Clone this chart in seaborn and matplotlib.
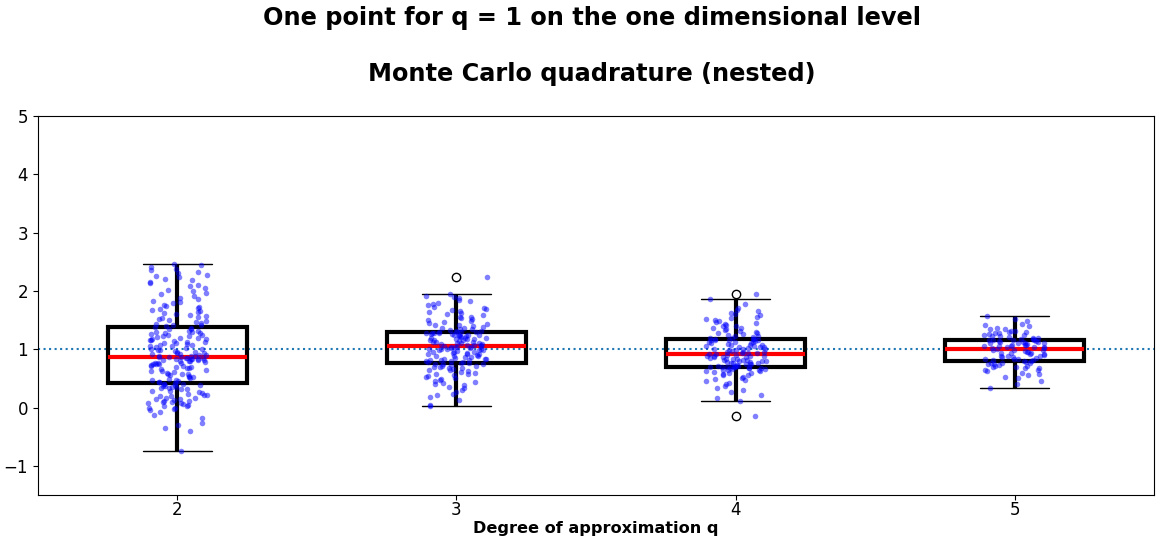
"""Boxplots of nested Monte Carlo quadrature results per degree of approximation."""

from __future__ import annotations

import matplotlib

matplotlib.use("Agg")

import matplotlib.pyplot as plt
import numpy as np
import pandas as pd
import seaborn as sns


DEGREES = ["2", "3", "4", "5"]

VALS_Q2 = [
    -0.74, -0.41, -0.35, -0.30, -0.26, -0.18, -0.12, -0.08, -0.05, -0.03,
    -0.01, 0.00, 0.02, 0.03, 0.04, 0.06, 0.07, 0.08, 0.09, 0.10,
    0.11, 0.12, 0.13, 0.14, 0.15, 0.16, 0.17, 0.19, 0.20, 0.21,
    0.22, 0.24, 0.25, 0.27, 0.28, 0.29, 0.31, 0.32, 0.33, 0.34,
    0.35, 0.36, 0.37, 0.37, 0.38, 0.39, 0.40, 0.41, 0.41, 0.42,
    0.43, 0.44, 0.46, 0.47, 0.47, 0.49, 0.50, 0.52, 0.53, 0.54,
    0.55, 0.57, 0.58, 0.58, 0.60, 0.61, 0.62, 0.63, 0.65, 0.66,
    0.67, 0.68, 0.69, 0.70, 0.71, 0.72, 0.73, 0.74, 0.74, 0.75,
    0.76, 0.77, 0.77, 0.78, 0.79, 0.79, 0.80, 0.81, 0.81, 0.82,
    0.83, 0.83, 0.84, 0.84, 0.85, 0.85, 0.85, 0.86, 0.86, 0.86,
    0.88, 0.88, 0.89, 0.90, 0.90, 0.91, 0.92, 0.93, 0.94, 0.95,
    0.96, 0.97, 0.98, 0.99, 1.00, 1.01, 1.02, 1.03, 1.05, 1.06,
    1.07, 1.08, 1.09, 1.10, 1.11, 1.12, 1.13, 1.14, 1.15, 1.16,
    1.17, 1.18, 1.19, 1.20, 1.21, 1.22, 1.23, 1.24, 1.25, 1.26,
    1.27, 1.28, 1.29, 1.30, 1.31, 1.32, 1.34, 1.35, 1.36, 1.38,
    1.40, 1.41, 1.42, 1.44, 1.45, 1.47, 1.48, 1.50, 1.52, 1.53,
    1.55, 1.57, 1.58, 1.60, 1.62, 1.63, 1.65, 1.67, 1.69, 1.71,
    1.72, 1.74, 1.76, 1.79, 1.81, 1.83, 1.86, 1.88, 1.91, 1.94,
    1.97, 2.00, 2.02, 2.05, 2.08, 2.10, 2.13, 2.15, 2.18, 2.21,
    2.24, 2.26, 2.28, 2.30, 2.33, 2.36, 2.38, 2.41, 2.44, 2.46,
]

VALS_Q3 = [
    0.02, 0.05, 0.13, 0.18, 0.21, 0.24, 0.27, 0.30, 0.33, 0.36,
    0.38, 0.40, 0.42, 0.44, 0.46, 0.47, 0.49, 0.51, 0.52, 0.54,
    0.55, 0.57, 0.58, 0.60, 0.61, 0.62, 0.64, 0.65, 0.66, 0.67,
    0.68, 0.69, 0.70, 0.71, 0.72, 0.73, 0.74, 0.75, 0.75, 0.76,
    0.77, 0.78, 0.78, 0.79, 0.80, 0.81, 0.81, 0.82, 0.83, 0.84,
    0.84, 0.85, 0.86, 0.87, 0.88, 0.88, 0.89, 0.90, 0.91, 0.92,
    0.92, 0.93, 0.94, 0.95, 0.95, 0.96, 0.97, 0.98, 0.98, 0.99,
    1.00, 1.00, 1.01, 1.01, 1.02, 1.02, 1.03, 1.03, 1.04, 1.04,
    1.06, 1.06, 1.07, 1.07, 1.08, 1.09, 1.09, 1.10, 1.11, 1.11,
    1.12, 1.13, 1.13, 1.14, 1.15, 1.15, 1.16, 1.17, 1.18, 1.18,
    1.19, 1.20, 1.20, 1.21, 1.22, 1.22, 1.23, 1.24, 1.24, 1.25,
    1.25, 1.26, 1.26, 1.27, 1.27, 1.28, 1.28, 1.29, 1.29, 1.29,
    1.30, 1.31, 1.32, 1.33, 1.34, 1.35, 1.36, 1.37, 1.38, 1.40,
    1.41, 1.42, 1.44, 1.45, 1.47, 1.48, 1.50, 1.51, 1.53, 1.55,
    1.56, 1.58, 1.60, 1.62, 1.63, 1.65, 1.67, 1.69, 1.71, 1.73,
    1.75, 1.77, 1.80, 1.82, 1.85, 1.87, 1.89, 1.91, 1.94, 2.23,
]

VALS_Q4 = [
    -0.15, 0.12, 0.16, 0.21, 0.26, 0.30, 0.33, 0.37, 0.40, 0.42,
    0.45, 0.47, 0.49, 0.51, 0.53, 0.55, 0.56, 0.58, 0.59, 0.60,
    0.61, 0.62, 0.63, 0.64, 0.65, 0.65, 0.66, 0.66, 0.67, 0.67,
    0.68, 0.68, 0.69, 0.69, 0.69,
    0.70, 0.70, 0.71, 0.72, 0.72, 0.73, 0.74, 0.74, 0.75, 0.76,
    0.76, 0.77, 0.78, 0.78, 0.79, 0.80, 0.80, 0.81, 0.82, 0.82,
    0.83, 0.84, 0.84, 0.85, 0.86, 0.86, 0.87, 0.88, 0.88, 0.89,
    0.89, 0.90, 0.90, 0.91, 0.91,
    0.93, 0.93, 0.94, 0.95, 0.96, 0.96, 0.97, 0.98, 0.99, 1.00,
    1.00, 1.01, 1.02, 1.03, 1.04, 1.04, 1.05, 1.06, 1.07, 1.08,
    1.08, 1.09, 1.10, 1.11, 1.12, 1.12, 1.13, 1.14, 1.15, 1.15,
    1.16, 1.16, 1.17, 1.17, 1.18,
    1.19, 1.20, 1.21, 1.22, 1.23, 1.24, 1.26, 1.27, 1.28, 1.30,
    1.31, 1.33, 1.34, 1.36, 1.37, 1.39, 1.40, 1.42, 1.44, 1.45,
    1.47, 1.49, 1.50, 1.52, 1.54, 1.56, 1.58, 1.60, 1.62, 1.65,
    1.67, 1.70, 1.77, 1.86, 1.94,
]

VALS_Q5 = [
    0.34, 0.41, 0.46, 0.50, 0.53, 0.56, 0.58, 0.60, 0.62, 0.64,
    0.65, 0.67, 0.68, 0.69, 0.70, 0.71, 0.72, 0.73, 0.74, 0.75,
    0.76, 0.77, 0.77, 0.78, 0.79,
    0.80, 0.81, 0.82, 0.83, 0.83, 0.84, 0.85, 0.86, 0.87, 0.88,
    0.89, 0.89, 0.90, 0.91, 0.92, 0.93, 0.94, 0.94, 0.95, 0.96,
    0.97, 0.98, 0.99, 0.99, 1.00,
    1.02, 1.02, 1.03, 1.04, 1.04, 1.05, 1.06, 1.06, 1.07, 1.08,
    1.08, 1.09, 1.10, 1.10, 1.11, 1.11, 1.12, 1.13, 1.13, 1.14,
    1.14, 1.15, 1.15, 1.16, 1.16,
    1.17, 1.18, 1.19, 1.20, 1.21, 1.22, 1.23, 1.24, 1.25, 1.26,
    1.27, 1.28, 1.29, 1.30, 1.31, 1.32, 1.34, 1.35, 1.37, 1.39,
    1.41, 1.44, 1.48, 1.52, 1.57,
]

TITLE_TOP = "One point for q = 1 on the one dimensional level"
TITLE_SUB = "Monte Carlo quadrature (nested)"
X_LABEL = "Degree of approximation q"
EXACT = 1.0


def build_frame() -> pd.DataFrame:
    parts = []
    for q, vals in zip(DEGREES, [VALS_Q2, VALS_Q3, VALS_Q4, VALS_Q5]):
        parts.append(pd.DataFrame({"q": q, "value": vals}))
    return pd.concat(parts, ignore_index=True)


def main() -> None:
    sns.set_style("ticks", rc={
        "axes.edgecolor": "black",
        "text.color": "black",
        "axes.labelcolor": "black",
        "xtick.color": "black",
        "ytick.color": "black",
        "xtick.major.size": 3.5,
        "ytick.major.size": 3.5,
        "xtick.major.width": 0.8,
        "ytick.major.width": 0.8,
        "axes.linewidth": 0.8,
    })
    plt.rcParams["font.family"] = ["DejaVu Sans"]
    np.random.seed(3)

    df = build_frame()
    fig, ax = plt.subplots(figsize=(11.61, 5.44), dpi=100)
    fig.subplots_adjust(left=0.0327, right=0.994, top=0.787, bottom=0.090)

    ax.axhline(EXACT, color="#1f77b4", linestyle=":", linewidth=1.5, zorder=1)
    sns.boxplot(
        data=df, x="q", y="value", order=DEGREES, width=0.5, ax=ax,
        linecolor="black", linewidth=3,
        boxprops=dict(facecolor="none", edgecolor="black", linewidth=3),
        medianprops=dict(color="red", linewidth=3),
        whiskerprops=dict(color="black", linewidth=3),
        capprops=dict(color="black", linewidth=1),
        flierprops=dict(marker="o", markerfacecolor="none", markeredgecolor="black",
                        markersize=6, markeredgewidth=1),
    )
    sns.stripplot(data=df, x="q", y="value", order=DEGREES, color="blue", alpha=0.5,
                  size=4, jitter=0.11, linewidth=0, ax=ax, zorder=3)

    ax.set_ylim(-1.5, 5)
    ax.set_yticks([-1, 0, 1, 2, 3, 4, 5])
    ax.tick_params(labelsize=12)
    ax.tick_params(axis="x", pad=1)
    ax.set_xlabel(X_LABEL, fontsize=11.6, fontweight="bold", labelpad=1)
    ax.set_ylabel("")

    fig.text(0.51, 0.967, TITLE_TOP, ha="center", va="center", fontsize=17.3, fontweight="bold")
    fig.text(0.51, 0.864, TITLE_SUB, ha="center", va="center", fontsize=17.3, fontweight="bold")

    fig.savefig("out.png", dpi=100)
    plt.close(fig)


if __name__ == "__main__":
    main()
